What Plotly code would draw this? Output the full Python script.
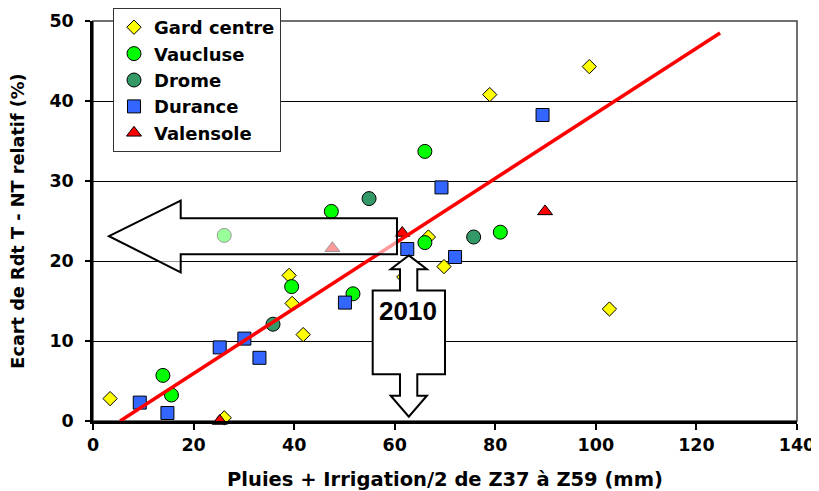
import plotly.graph_objects as go

# ---- data ----
gard_x = [3.4, 26.1, 39.0, 39.6, 41.8, 61.8, 66.7, 69.8, 78.9, 98.7, 102.7]
gard_y = [2.8, 0.4, 18.2, 14.7, 10.8, 18.0, 23.0, 19.3, 40.8, 44.3, 14.0]

vaucluse_x = [13.9, 15.6, 26.1, 39.5, 47.4, 51.7, 66.0, 66.0, 81.0]
vaucluse_y = [5.7, 3.25, 23.2, 16.8, 26.2, 15.9, 33.7, 22.3, 23.6]

drome_x = [35.8, 54.9, 75.7]
drome_y = [12.1, 27.8, 23.0]

durance_x = [9.3, 14.8, 25.2, 30.1, 33.1, 50.1, 62.5, 69.3, 72.0, 89.4]
durance_y = [2.3, 1.0, 9.2, 10.3, 7.9, 14.8, 21.5, 29.2, 20.5, 38.25]

valensole_x = [25.2, 47.6, 61.5, 89.9]
valensole_y = [0.0, 21.6, 23.5, 26.2]

trend_x = [5.4, 124.7]
trend_y = [0.0, 48.5]

x_ticks = [0, 20, 40, 60, 80, 100, 120, 140]
y_ticks = [0, 10, 20, 30, 40, 50]

FONT = "DejaVu Sans"

fig = go.Figure()

def add_series(name, xs, ys, symbol, color, size):
    fig.add_trace(go.Scatter(
        x=xs, y=ys, mode="markers", name=name, cliponaxis=False,
        marker=dict(symbol=symbol, color=color, size=size,
                    line=dict(color="black", width=1)),
    ))

add_series("Gard centre", gard_x, gard_y, "diamond", "#FFFF00", 11)
add_series("Vaucluse", vaucluse_x, vaucluse_y, "circle", "#00FF00", 14)
add_series("Drome", drome_x, drome_y, "circle", "#339966", 14)
add_series("Durance", durance_x, durance_y, "square", "#3366FF", 13)
add_series("Valensole", valensole_x, valensole_y, "triangle-up", "#FF0000", 13)

fig.add_trace(go.Scatter(
    x=trend_x, y=trend_y, mode="lines", showlegend=False,
    line=dict(color="#FF0000", width=3.5), hoverinfo="skip",
))

# plot-area border
fig.add_shape(type="rect", xref="paper", yref="paper", x0=0, x1=1, y0=0, y1=1,
              line=dict(color="#404040", width=1.5), layer="below")

# left arrow (semi transparent, above the points)
fig.add_shape(type="path", xref="x", yref="y", layer="above",
              path="M 3.18,23.1 L 17.44,27.54 L 17.44,25.34 L 60.45,25.34 "
                   "L 60.45,20.84 L 17.44,20.84 L 17.44,18.59 Z",
              fillcolor="rgba(255,255,255,0.6)",
              line=dict(color="black", width=2))

# double vertical arrow with 2010 box
fig.add_shape(type="path", xref="x", yref="y", layer="above",
              path="M 62.8,20.7 L 66.4,18.96 L 64.49,18.96 L 64.49,16.31 "
                   "L 70.0,16.31 L 70.0,5.84 L 64.49,5.84 L 64.49,3.16 "
                   "L 66.4,3.16 L 62.8,0.54 L 59.2,3.16 L 61.05,3.16 "
                   "L 61.05,5.84 L 55.62,5.84 L 55.62,16.31 L 61.05,16.31 "
                   "L 61.05,18.96 L 59.2,18.96 Z",
              fillcolor="white",
              line=dict(color="black", width=2))

fig.add_annotation(x=62.7, y=13.7, xref="x", yref="y", text="2010",
                   showarrow=False,
                   font=dict(family="Liberation Sans, Arial", size=26,
                             color="black", weight="bold"))

# the page adds an 8px body margin, so the figure is 8px smaller
fig.update_layout(
    width=811, height=483,
    margin=dict(l=85, r=22, t=13, b=70, autoexpand=False),
    plot_bgcolor="white", paper_bgcolor="white",
    font=dict(family=FONT, size=17, color="black"),
    legend=dict(x=0.0284, y=1.0325, xanchor="left", yanchor="top",
                bgcolor="white", bordercolor="#333333", borderwidth=1,
                font=dict(family=FONT, size=18, color="black", weight="bold"),
                tracegroupgap=0),
)

fig.update_xaxes(
    range=[0, 140], tickvals=x_ticks, ticktext=[str(v) for v in x_ticks],
    showgrid=False, zeroline=False, automargin=False,
    showline=True, linecolor="black", linewidth=3,
    ticks="outside", ticklen=6, tickwidth=2, tickcolor="black",
    tickfont=dict(family=FONT, size=17.5, color="black", weight="bold"),
    title=dict(text="Pluies + Irrigation/2 de Z37 à Z59 (mm)",
               font=dict(family=FONT, size=19.5, color="black", weight="bold"),
               standoff=20),
)

fig.update_yaxes(
    range=[0, 50], tickvals=y_ticks, ticktext=[str(v) for v in y_ticks],
    showgrid=True, gridcolor="black", gridwidth=1, zeroline=False,
    automargin=False,
    showline=True, linecolor="black", linewidth=2.5,
    ticks="outside", ticklen=5, tickwidth=2, tickcolor="black",
    ticklabelstandoff=8,
    tickfont=dict(family=FONT, size=17.5, color="black", weight="bold"),
    title=dict(text="Ecart de Rdt T - NT relatif (%)",
               font=dict(family=FONT, size=17.7, color="black", weight="bold"),
               standoff=24),
)

fig.write_html("out.html")
